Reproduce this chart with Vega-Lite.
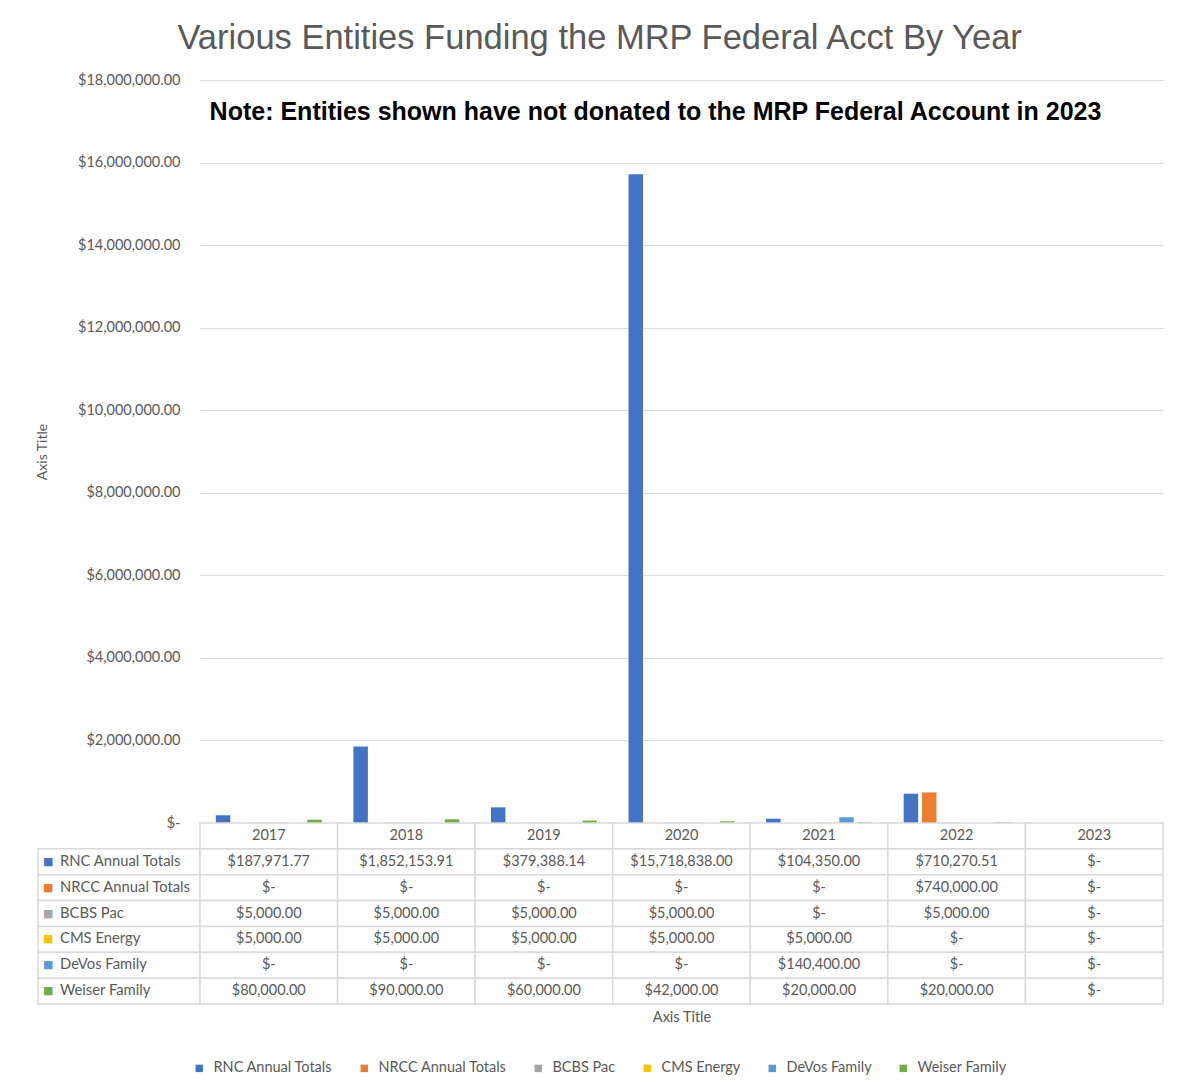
{
  "$schema": "https://vega.github.io/schema/vega-lite/v6.json",
  "background": "white",
  "padding": {"left": 35, "right": 10, "top": 20, "bottom": 5},
  "title": {
    "text": "Various Entities Funding the MRP Federal Acct By Year",
    "font": "Liberation Sans",
    "fontSize": 34.5,
    "fontWeight": "normal",
    "color": "#595959",
    "anchor": "middle",
    "offset": 16
  },
  "datasets": {
    "main": [
      {"year": "2017", "series": "RNC Annual Totals", "value": 187971.77},
      {"year": "2018", "series": "RNC Annual Totals", "value": 1852153.91},
      {"year": "2019", "series": "RNC Annual Totals", "value": 379388.14},
      {"year": "2020", "series": "RNC Annual Totals", "value": 15718838.00},
      {"year": "2021", "series": "RNC Annual Totals", "value": 104350.00},
      {"year": "2022", "series": "RNC Annual Totals", "value": 710270.51},
      {"year": "2023", "series": "RNC Annual Totals", "value": 0},
      {"year": "2017", "series": "NRCC Annual Totals", "value": 0},
      {"year": "2018", "series": "NRCC Annual Totals", "value": 0},
      {"year": "2019", "series": "NRCC Annual Totals", "value": 0},
      {"year": "2020", "series": "NRCC Annual Totals", "value": 0},
      {"year": "2021", "series": "NRCC Annual Totals", "value": 0},
      {"year": "2022", "series": "NRCC Annual Totals", "value": 740000.00},
      {"year": "2023", "series": "NRCC Annual Totals", "value": 0},
      {"year": "2017", "series": "BCBS Pac", "value": 5000},
      {"year": "2018", "series": "BCBS Pac", "value": 5000},
      {"year": "2019", "series": "BCBS Pac", "value": 5000},
      {"year": "2020", "series": "BCBS Pac", "value": 5000},
      {"year": "2021", "series": "BCBS Pac", "value": 0},
      {"year": "2022", "series": "BCBS Pac", "value": 5000},
      {"year": "2023", "series": "BCBS Pac", "value": 0},
      {"year": "2017", "series": "CMS Energy", "value": 5000},
      {"year": "2018", "series": "CMS Energy", "value": 5000},
      {"year": "2019", "series": "CMS Energy", "value": 5000},
      {"year": "2020", "series": "CMS Energy", "value": 5000},
      {"year": "2021", "series": "CMS Energy", "value": 5000},
      {"year": "2022", "series": "CMS Energy", "value": 0},
      {"year": "2023", "series": "CMS Energy", "value": 0},
      {"year": "2017", "series": "DeVos Family", "value": 0},
      {"year": "2018", "series": "DeVos Family", "value": 0},
      {"year": "2019", "series": "DeVos Family", "value": 0},
      {"year": "2020", "series": "DeVos Family", "value": 0},
      {"year": "2021", "series": "DeVos Family", "value": 140400.00},
      {"year": "2022", "series": "DeVos Family", "value": 0},
      {"year": "2023", "series": "DeVos Family", "value": 0},
      {"year": "2017", "series": "Weiser Family", "value": 80000},
      {"year": "2018", "series": "Weiser Family", "value": 90000},
      {"year": "2019", "series": "Weiser Family", "value": 60000},
      {"year": "2020", "series": "Weiser Family", "value": 42000},
      {"year": "2021", "series": "Weiser Family", "value": 20000},
      {"year": "2022", "series": "Weiser Family", "value": 20000},
      {"year": "2023", "series": "Weiser Family", "value": 0}
    ],
    "series": [
      {"series": "RNC Annual Totals"},
      {"series": "NRCC Annual Totals"},
      {"series": "BCBS Pac"},
      {"series": "CMS Energy"},
      {"series": "DeVos Family"},
      {"series": "Weiser Family"}
    ]
  },
  "columns": 2,
  "spacing": 0,
  "bounds": "flush",
  "align": "each",
  "resolve": {"scale": {"color": "shared"}},
  "concat": [
    {
      "width": 162,
      "height": 743,
      "data": {"values": []},
      "mark": "point",
      "encoding": {}
    },
    {
      "width": 963,
      "height": 743,
      "layer": [
        {
          "data": {"name": "main"},
          "mark": {"type": "bar"},
          "encoding": {
            "x": {
              "field": "year", "type": "nominal", "sort": null,
              "scale": {"paddingInner": 0, "paddingOuter": 0},
              "axis": null
            },
            "xOffset": {
              "field": "series", "type": "nominal",
              "scale": {
                "domain": ["RNC Annual Totals", "NRCC Annual Totals", "BCBS Pac", "CMS Energy", "DeVos Family", "Weiser Family"],
                "paddingInner": 0.21, "paddingOuter": 0.865
              }
            },
            "y": {
              "field": "value", "type": "quantitative",
              "scale": {"domain": [0, 18000000], "nice": false},
              "axis": {
                "values": [0, 2000000, 4000000, 6000000, 8000000, 10000000, 12000000, 14000000, 16000000, 18000000],
                "labelExpr": "datum.value === 0 ? '$-' : '$' + format(datum.value, ',.2f')",
                "title": "Axis Title",
                "domain": false,
                "ticks": false,
                "labelPadding": 20,
                "labelFont": "Lato",
                "labelFontSize": 14.5,
                "labelColor": "#595959",
                "gridColor": "#d9d9d9",
                "gridWidth": 1,
                "titleFont": "Lato",
                "titleFontSize": 14,
                "titleFontWeight": "normal",
                "titleColor": "#595959",
                "titlePadding": 28
              }
            },
            "color": {
              "field": "series", "type": "nominal",
              "scale": {
                "domain": ["RNC Annual Totals", "NRCC Annual Totals", "BCBS Pac", "CMS Energy", "DeVos Family", "Weiser Family"],
                "range": ["#4472C4", "#ED7D31", "#A5A5A5", "#FFC000", "#5B9BD5", "#70AD47"]
              },
              "legend": {"title": null, "symbolType": "square"}
            }
          }
        },
        {
          "data": {"values": [{"note": "Note: Entities shown have not donated to the MRP Federal Account in 2023"}]},
          "mark": {"type": "text", "font": "Liberation Sans", "fontSize": 25, "fontWeight": "bold", "color": "#000000", "dx": -26, "baseline": "middle"},
          "encoding": {
            "x": {"datum": "2020", "type": "nominal"},
            "y": {"datum": 17220000, "type": "quantitative"},
            "text": {"field": "note"}
          }
        }
      ]
    },
    {
      "width": 162,
      "height": 181,
      "data": {"name": "series"},
      "encoding": {
        "y": {
          "field": "series", "type": "nominal",
          "scale": {
            "domain": ["Year", "RNC Annual Totals", "NRCC Annual Totals", "BCBS Pac", "CMS Energy", "DeVos Family", "Weiser Family"],
            "paddingInner": 0, "paddingOuter": 0
          },
          "axis": null
        }
      },
      "layer": [
        {"mark": {"type": "rect", "fill": "white", "stroke": "#d9d9d9", "strokeWidth": 1.5}},
        {
          "mark": {"type": "text", "text": "■", "align": "left", "dx": -76, "font": "DejaVu Sans", "fontSize": 11, "baseline": "middle"},
          "encoding": {"color": {"field": "series", "type": "nominal", "legend": null}}
        },
        {
          "mark": {"type": "text", "align": "left", "dx": -59, "font": "Lato", "fontSize": 14.8, "color": "#595959", "baseline": "middle"},
          "encoding": {"text": {"field": "series"}}
        }
      ]
    },
    {
      "width": 963,
      "height": 181,
      "data": {"name": "main"},
      "transform": [
        {"calculate": "datum.value === 0 ? '$-' : '$' + format(datum.value, ',.2f')", "as": "label"}
      ],
      "encoding": {
        "x": {
          "field": "year", "type": "nominal", "sort": null,
          "scale": {"paddingInner": 0, "paddingOuter": 0},
          "axis": {
            "title": "Axis Title", "labels": false, "ticks": false, "domain": false, "grid": false,
            "titleFont": "Lato", "titleFontSize": 14.5, "titleFontWeight": "normal", "titleColor": "#595959", "titlePadding": 6
          }
        }
      },
      "layer": [
        {
          "mark": {"type": "rect", "fill": "white", "stroke": "#d9d9d9", "strokeWidth": 1.5},
          "encoding": {
            "y": {
              "field": "series", "type": "nominal",
              "scale": {
                "domain": ["Year", "RNC Annual Totals", "NRCC Annual Totals", "BCBS Pac", "CMS Energy", "DeVos Family", "Weiser Family"],
                "paddingInner": 0, "paddingOuter": 0
              },
              "axis": null
            }
          }
        },
        {
          "transform": [{"filter": "datum.series === 'RNC Annual Totals'"}],
          "mark": {"type": "rect", "fill": "white", "stroke": "#d9d9d9", "strokeWidth": 1.5},
          "encoding": {"y": {"datum": "Year", "type": "nominal"}}
        },
        {
          "mark": {"type": "text", "font": "Lato", "fontSize": 14.5, "color": "#595959", "baseline": "middle"},
          "encoding": {
            "y": {"field": "series", "type": "nominal"},
            "text": {"field": "label"}
          }
        },
        {
          "transform": [{"filter": "datum.series === 'RNC Annual Totals'"}],
          "mark": {"type": "text", "font": "Lato", "fontSize": 14.5, "color": "#595959", "baseline": "middle"},
          "encoding": {
            "y": {"datum": "Year", "type": "nominal"},
            "text": {"field": "year"}
          }
        }
      ]
    }
  ],
  "config": {
    "view": {"stroke": null},
    "legend": {
      "orient": "bottom",
      "direction": "horizontal",
      "symbolType": "square",
      "symbolSize": 55,
      "symbolStrokeWidth": 0,
      "labelFont": "Lato",
      "labelFontSize": 14.5,
      "labelColor": "#595959",
      "labelOffset": 7,
      "columnPadding": 24,
      "offset": 37,
      "layout": {"bottom": {"anchor": "middle"}}
    }
  }
}
